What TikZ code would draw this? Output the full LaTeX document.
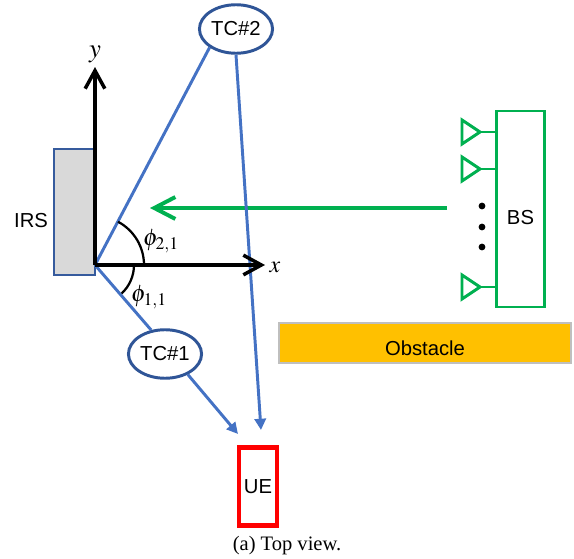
\documentclass[tikz,border=0pt]{standalone}
\usepackage{mathptmx}
\usepackage[no-math]{fontspec}
\setmainfont{Liberation Serif}
\newfontfamily\arialfont{Liberation Sans}
\usetikzlibrary{arrows.meta,shapes.geometric}
\definecolor{irsblue}{HTML}{4472C4}
\definecolor{tcblue}{HTML}{2F5597}
\definecolor{bsgreen}{HTML}{00B050}
\definecolor{obstacleorange}{HTML}{FFC000}
\tikzset{
  lbl/.style={font=\arialfont\fontsize{14.4}{17}\selectfont},
  axis/.style={line width=2.5pt,-{Straight Barb[length=12.8pt,width=14pt]}},
  path/.style={irsblue,line width=2.1pt},
  tc/.style={ellipse,draw=tcblue,line width=2.1pt,minimum width=52pt,minimum height=34.5pt,inner sep=0pt,lbl},
  bsline/.style={bsgreen,line width=2.1pt}
}
\begin{document}
\begin{tikzpicture}[x=0.025cm,y=-0.025cm]
\useasboundingbox (0,0) rectangle (574,559);
\coordinate (O) at (95,265);
\coordinate (xtip) at (265,265);
\coordinate (ytip) at (95,67);
\coordinate (ue1) at (238,434);
\coordinate (ue2) at (261,430);
\coordinate (sigstart) at (447,208);
\coordinate (sigend) at (150,208);

\draw [draw=irsblue!80!black,fill=black!15,line width=1pt](54,149) rectangle (95,275);
\node [lbl] (irs) at (31,221) {IRS};

\node [tc] (tc2) at (236,29) {TC\#2};
\node [tc] (tc1) at (165,354) {TC\#1};

\node [draw=red,line width=2.9pt,minimum width=27pt,minimum height=55.5pt,inner sep=0pt,lbl] (ue) at (258,486.5) {UE};
\node [draw=black!25,fill=obstacleorange,line width=1.2pt,minimum width=208pt,minimum height=28pt,inner sep=0pt,label={[lbl,yshift=-3.5pt]center:Obstacle}] (obstacle) at (425,343) {};

% base station with its antennas
\node [draw=bsgreen,line width=2.1pt,minimum width=34.8pt,minimum height=139.4pt,inner sep=0pt,label={[lbl,yshift=-6.4pt]center:BS}] (bs) at (520.5,209) {};
\foreach \ay in {132,169,287}{
\draw [bsline] (462,\ay-12) -- (480,\ay) -- (462,\ay+12) -- cycle;
\draw [bsline] (480,\ay) -- (496,\ay);
}
\foreach \dy in {206,227,247}{
\fill [black] (482,\dy) circle(3.4);
}

\draw [bsgreen,line width=2.8pt,-{Straight Barb[length=15pt,width=15.6pt]}] (sigstart) -- (sigend);

\draw [path] (O) -- (tc2.215);
\draw [path] (O) -- (tc1.120);
\draw [path,-{Triangle[length=8pt,width=8pt]}] (tc2.south) -- (ue2);
\draw [path,-{Triangle[length=8pt,width=8pt]}] (tc1.318) -- (ue1);

\draw [axis] (O) -- (ytip);
\draw [axis] (O) -- (xtip);
\node (ylabel) at (95,54) {\fontsize{19}{21}\selectfont$y$};
\node (xlabel) at (275,267) {\fontsize{17}{19}\selectfont$x$};

\draw [line width=1.6pt] (144,265) arc[radius=49, start angle=0, end angle=-62];
\draw [line width=1.6pt] (134,265) arc[radius=39, start angle=0, end angle=47];
\node (phi2) at (161,241) {\fontsize{17}{19}\selectfont$\phi_{2,1}$};
\node (phi1) at (149,297) {\fontsize{17}{19}\selectfont$\phi_{1,1}$};

\node (caption) at (287,546) {\fontsize{14.6}{17}\selectfont (a) Top view.};
\end{tikzpicture}
\end{document}
